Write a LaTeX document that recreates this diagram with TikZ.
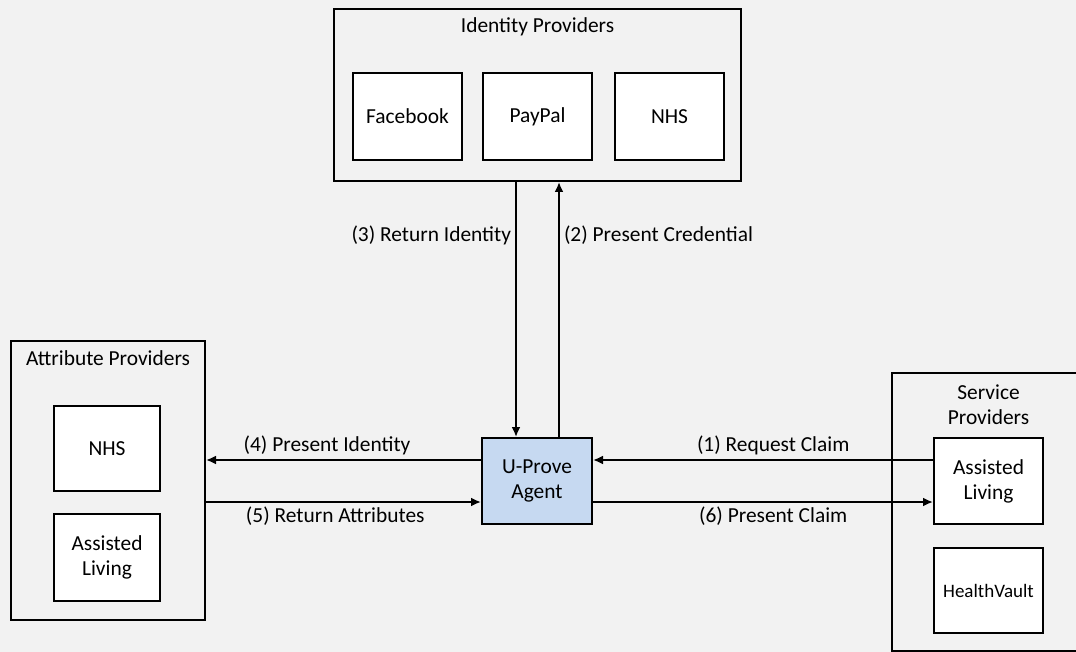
\documentclass[tikz,border=0pt]{standalone}
\usepackage{fontspec}
\setmainfont{Carlito}
\usetikzlibrary{arrows, arrows.meta, positioning}

\definecolor{canvas}{HTML}{F2F2F2}
\definecolor{agentblue}{HTML}{C6D9F1}

\begin{document}
\begin{tikzpicture}[x=0.5pt,y=-0.5pt,
  every node/.style={font=\fontsize{10.7}{12.5}\selectfont,align=center},
  group/.style={draw,line width=1pt,inner sep=0pt},
  member/.style={draw,line width=1pt,fill=white,inner sep=0pt,
                 minimum width=54.5pt,minimum height=43.5pt},
  agent/.style={member,fill=agentblue,minimum width=55pt,minimum height=43pt},
  flow/.style={-{Latex[length=5pt,width=4.5pt]},line width=1pt},
  tag/.style={inner sep=2pt}]
  \fill[canvas] (0,0) rectangle (1076,652);
  \useasboundingbox (0,0) rectangle (1076,652);
  \clip (0,0) rectangle (1076,652);

  % identity providers
  \node[group,minimum width=203.5pt,minimum height=86pt] (idp) at (537.5,95) {};
  \node (idptitle) at (537.5,27) {Identity Providers};
  \node[member]  (paypal) at (537.5,116.5)     {PayPal};
  \node[member]  (fb)     [left=9.5pt of paypal]   {Facebook};
  \node[member]  (idnhs)  [right=10.5pt of paypal] {NHS};

  % attribute providers
  \node[group,minimum width=97pt,minimum height=139.5pt] (ap) at (108,480.5) {};
  \node (aptitle) at (108,358) {Attribute Providers};
  \node[member,minimum width=53pt,minimum height=42.5pt] (apnhs) at (107,448.5) {NHS};
  \node[member,minimum width=53pt] (apal) [below=10.5pt of apnhs] {Assisted\\Living};

  % service providers
  \node[group,minimum width=109pt,minimum height=139pt] (sp) at (1001,512) {};
  \node (sptitle) at (988.5,405) {Service\\Providers};
  \node[member,minimum height=43pt] (spal) at (988.5,481) {Assisted\\Living};
  \node[member,minimum height=42.5pt,font=\fontsize{9.5}{11}\selectfont] (hv) [below=11pt of spal] {HealthVault};

  % agent
  \node[agent] (agent) at (537,481) {U-Prove\\Agent};

  % flows
  \draw[flow] ([xshift=-10.75pt]idp.south) -- ([xshift=-10.75pt]idp.south |- agent.north)
    node[pos=.21,left,tag] {(3) Return Identity};
  \draw[flow] ([xshift=10.75pt]idp.south |- agent.north) -- ([xshift=10.75pt]idp.south)
    node[pos=.79,right,tag] {(2) Present Credential};
  \draw[flow] ([yshift=10.5pt]agent.west) -- ([yshift=10.5pt]agent.west -| ap.east)
    node[pos=.56,above,tag] {(4) Present Identity};
  \draw[flow] ([yshift=-10.5pt]agent.west -| ap.east) -- ([yshift=-10.5pt]agent.west)
    node[pos=.47,below,tag] {(5) Return Attributes};
  \draw[flow] ([yshift=10.5pt]spal.west) -- ([yshift=10.5pt]agent.east)
    node[pos=.47,above,tag] {(1) Request Claim};
  \draw[flow] ([yshift=-10.5pt]agent.east) -- ([yshift=-10.5pt]spal.west)
    node[pos=.53,below,tag] {(6) Present Claim};
\end{tikzpicture}
\end{document}
